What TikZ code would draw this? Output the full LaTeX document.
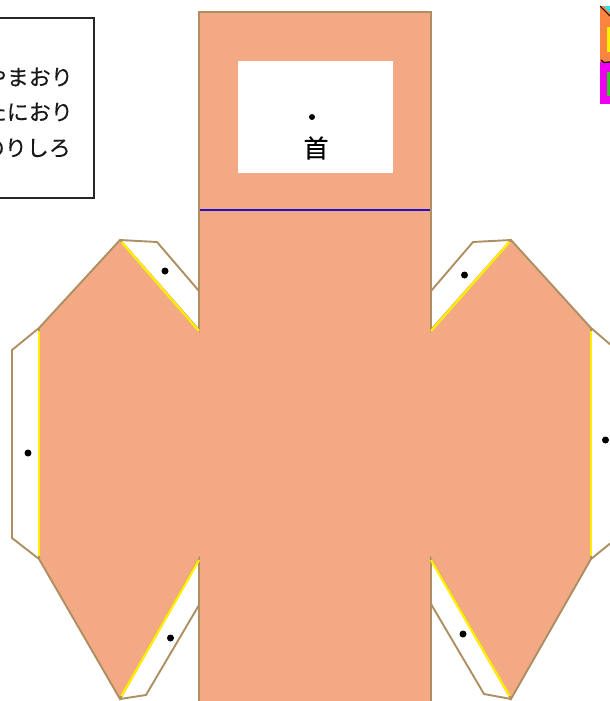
\documentclass[tikz,border=0pt]{standalone}
\usepackage{fontspec}
\newfontfamily\cjk[FakeBold=0.35]{Noto Sans CJK JP}
\definecolor{skin}{HTML}{F4A985}
\definecolor{edge}{HTML}{AD8F62}
\definecolor{foldy}{HTML}{FFEE00}
\definecolor{swatchorange}{HTML}{FA8540}
\definecolor{swatchmagenta}{HTML}{F000F0}
\definecolor{swatchcyan}{HTML}{30E0F0}
\definecolor{swatchyellow}{HTML}{FFF000}
\definecolor{swatchgreen}{HTML}{30D020}
\definecolor{foldblue}{HTML}{2010D0}
\tikzset{
  bodyshape/.style={fill=skin,draw=edge,line width=1.9pt,line join=miter},
  tabline/.style={draw=edge,line width=1.9pt,fill=white},
  gluefold/.style={draw=foldy,line width=2.3pt},
  holedot/.style={circle,fill=black,inner sep=0pt,minimum size=7pt},
  notetext/.style={font=\cjk\fontsize{22}{22}\selectfont,anchor=east,inner sep=0pt,text=black!90}
}
\begin{document}
\begin{tikzpicture}[x=1pt,y=-1pt]
\useasboundingbox (0,0) rectangle (610,701);
\clip (0,0) rectangle (610,701);
% tabs
\draw[tabline] (120,240) -- (157,242) -- (199,291) -- (199,330);
\draw[tabline] (39,328) -- (12,350) -- (12,538) -- (39,559);
\draw[tabline] (120,699) -- (146,695) -- (199,605) -- (199,559);
\draw[tabline] (511,240) -- (473,242) -- (431,291) -- (431,330);
\draw[tabline] (591,328) -- (612,346) -- (612,542) -- (591,559);
\draw[tabline] (511,699) -- (484,694) -- (431,604) -- (431,559);
% body
\draw[bodyshape] (199,12) -- (431,12) -- (431,330) -- (511,240) -- (591,328) -- (591,559) -- (511,699) -- (431,559) -- (431,710) -- (199,710) -- (199,559) -- (120,699) -- (39,559) -- (39,328) -- (120,240) -- (199,330) -- cycle;
% yellow fold lines
\draw[gluefold] (121.5,242) -- (199,331);
\draw[gluefold] (39,331) -- (39,556);
\draw[gluefold] (121.5,696) -- (199,560);
\draw[gluefold] (509.5,242) -- (431,331);
\draw[gluefold] (591,331) -- (591,556);
\draw[gluefold] (509.5,696) -- (431,560);
% neck window
\fill[white] (237.5,61) rectangle (392.5,173);
\draw[foldblue,line width=1.3pt] (200,210) -- (430,210);
\node[holedot,minimum size=6pt] (d0) at (312,117) {};
\node[font=\cjk\fontsize{25}{25}\selectfont,inner sep=0pt] (neck) at (316,148) {首};
% dots
\node[holedot] (d1) at (165,271) {};
\node[holedot] (d2) at (464.5,275) {};
\node[holedot] (d3) at (28,453) {};
\node[holedot] (d4) at (605.5,440) {};
\node[holedot] (d5) at (170.5,638) {};
\node[holedot] (d6) at (463,634) {};
% legend
\draw[black!85,line width=1.9pt] (-10,18) -- (94,18) -- (94,198) -- (-10,198);
\node[notetext] (n1) at (73,77) {やまおり};
\node[notetext] (n2) at (73,112) {たにおり};
\node[notetext] (n3) at (71,148) {のりしろ};
% cropped corner swatches
\fill[swatchorange] (600,6) rectangle (610,62);
\fill[swatchcyan] (604,6) -- (610,6) -- (610,13) -- cycle;
\draw[black,line width=1pt] (600,6) -- (610,16);
\fill[swatchyellow] (607,27) rectangle (610,52);
\fill[swatchmagenta] (600,62) rectangle (610,104);
\draw[black,line width=1.2pt] (601,60) -- (604,62.5) -- (610,62);
\fill[swatchgreen] (607,72) rectangle (610,96);
\end{tikzpicture}
\end{document}
